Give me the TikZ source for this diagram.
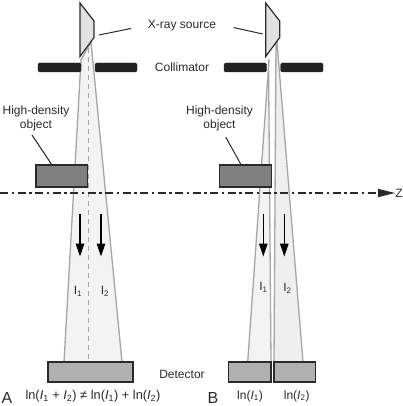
\documentclass[tikz,border=0pt]{standalone}
\usepackage{fontspec}
\setmainfont{Liberation Sans}
\usepackage{xcolor}
\usetikzlibrary{arrows.meta,positioning}
\definecolor{sourcegray}{HTML}{E2E2E2}
\definecolor{slitblack}{HTML}{222222}
\definecolor{objectgray}{HTML}{808080}
\definecolor{detectgray}{HTML}{B0B0B0}
\definecolor{beamedge}{HTML}{A6A6A6}
\definecolor{beamfill}{HTML}{F3F3F3}
\definecolor{beamfilltwo}{HTML}{EFEFEF}
\definecolor{inkgray}{HTML}{2A2A2A}
\tikzset{
    solidpart/.style={draw=inkgray,line width=1.2pt},
    beam/.style={draw=beamedge,line width=1.3pt,fill=beamfill},
    leader/.style={draw=inkgray,line width=1pt},
    flow/.style={draw=black,line width=1.2pt,-{Triangle[length=13pt,width=8.5pt]}},
    lab/.style={inner sep=0pt,text=inkgray}
}
\begin{document}
\begin{tikzpicture}[x=1pt,y=-1pt,font=\fontsize{12}{14}\selectfont]
\useasboundingbox (0,0) rectangle (403,406);
% panel A beam
\draw[beam] (81,60) -- (64,362) -- (122,362) -- (91,42) -- cycle;
\draw[beamedge,line width=1.1pt,dash pattern=on 5pt off 4pt] (88.7,48) -- (88.7,362);
% panel B beams
\draw[beam] (269,60) -- (247.7,362) -- (271,362) -- (268.5,60) -- cycle;
\draw[beam,fill=beamfilltwo] (276,42) -- (274,362) -- (303,362) -- (277,42) -- cycle;
% sources and collimators
\foreach \x/\name in {80/srca,265.7/srcb} {
    \draw[solidpart,fill=sourcegray] (\x,3) -- (\x+14,21) -- (\x+14,37.5) -- (\x,56.5) -- cycle;
    \coordinate (\name) at (\x,30);
}
\foreach \xa/\xb in {38/81,95/137,224/266.7,280.7/323} {
    \draw[draw=slitblack,fill=slitblack,rounded corners=1.5pt] (\xa,63) rectangle (\xb,72);
}
% objects and detectors
\draw[solidpart,fill=objectgray] (36,165) rectangle (87.5,187);
\draw[solidpart,fill=objectgray] (219.5,165) rectangle (271.5,187);
\draw[solidpart,fill=detectgray] (48,362) rectangle (133,382);
\draw[solidpart,fill=detectgray] (228.7,362) rectangle (271,382);
\draw[solidpart,fill=detectgray] (274,362) rectangle (315.5,382);
% z axis
\node[lab] (zlab) at (399,193) {Z};
\coordinate (zstart) at (0,193);
\draw[inkgray,line width=1.2pt,dash pattern=on 8pt off 3.5pt on 2.5pt off 3.5pt,-{Triangle[length=17pt,width=8pt]}] (zstart) -- (zlab.west);
% arrows
\foreach \x/\name in {80/aone,101/atwo,263.3/bone,284.3/btwo} {
    \coordinate (\name top) at (\x,214);
    \coordinate (\name end) at (\x,256.5);
    \draw[flow] (\name top) -- (\name end);
}
% labels
\node[lab] (source) at (182,26) {X-ray source};
\node[lab] (collim) at (182,67) {Collimator};
\node[lab] (detect) at (182,374) {Detector};
\node[lab,align=center] (obja) at (36,118.5) {High-density\\object};
\node[lab,align=center] (objb) at (219.5,118.5) {High-density\\object};
\node[lab] (ione) at (78,291) {I\textsubscript{1}};
\node[lab] (itwo) at (105,291) {I\textsubscript{2}};
\node[lab] (jone) at (263.5,287) {I\textsubscript{1}};
\node[lab] (jtwo) at (287.5,288) {I\textsubscript{2}};
\node[lab,font=\fontsize{16}{18}\selectfont] (pana) at (7,397.5) {A};
\node[lab,font=\fontsize{16}{18}\selectfont] (panb) at (213,397.5) {B};
\node[lab,font=\fontsize{12.8}{15}\selectfont] (eqa) at (93,396) {ln(\textit{I}\textsubscript{1} + \textit{I}\textsubscript{2}) ≠ ln(\textit{I}\textsubscript{1}) + ln(\textit{I}\textsubscript{2})};
\node[lab] (eqb) at (250,396) {ln(\textit{I}\textsubscript{1})};
\node[lab] (eqc) at (296.7,396) {ln(\textit{I}\textsubscript{2})};
% leaders
\coordinate (srctipa) at (99,35);
\coordinate (srctipb) at (262.7,34);
\coordinate (objtipa) at (52,165);
\coordinate (objtipb) at (240.7,164);
\draw[leader] (131,28.5) -- (srctipa);
\draw[leader] (233.5,27.5) -- (srctipb);
\draw[leader] (32,135) -- (objtipa);
\draw[leader] (225.7,137) -- (objtipb);
\end{tikzpicture}
\end{document}
